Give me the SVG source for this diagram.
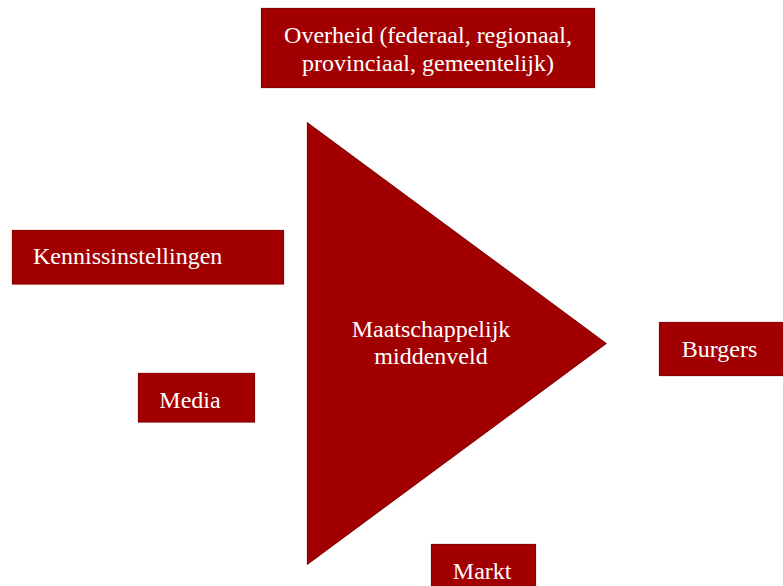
<svg xmlns="http://www.w3.org/2000/svg" width="783" height="586" viewBox="0 0 783 586">
<style>
.box{fill:#A20000;stroke:#8A0000;stroke-width:1.2}
.lbl{font-family:"Liberation Serif","Times New Roman",serif;font-size:24px;fill:#FFFFFF;text-anchor:middle}
</style>
<rect width="783" height="586" fill="#FFFFFF"/>
<g id="connectors"></g>
<g id="middenveld">
<polygon class="box" points="307.5,123 606,343.5 307.5,564"/>
<text class="lbl" x="431" y="336.5">Maatschappelijk</text>
<text class="lbl" x="431" y="364">middenveld</text>
</g>
<g id="overheid">
<rect class="box" x="261.5" y="8.5" width="333" height="79"/>
<text class="lbl" x="428" y="43.3">Overheid (federaal, regionaal,</text>
<text class="lbl" x="428" y="70.8">provinciaal, gemeentelijk)</text>
</g>
<g id="kennis">
<rect class="box" x="12.5" y="230.5" width="271" height="53.5"/>
<text class="lbl" x="127.7" y="264">Kennissinstellingen</text>
</g>
<g id="media">
<rect class="box" x="138.5" y="373.5" width="116" height="48.5"/>
<text class="lbl" x="190" y="407.5">Media</text>
</g>
<g id="burgers">
<rect class="box" x="659.5" y="322.5" width="125" height="53"/>
<text class="lbl" x="719.5" y="357.3">Burgers</text>
</g>
<g id="markt">
<rect class="box" x="431.5" y="544.5" width="104" height="45"/>
<text class="lbl" x="482.2" y="578.5">Markt</text>
</g>
</svg>
